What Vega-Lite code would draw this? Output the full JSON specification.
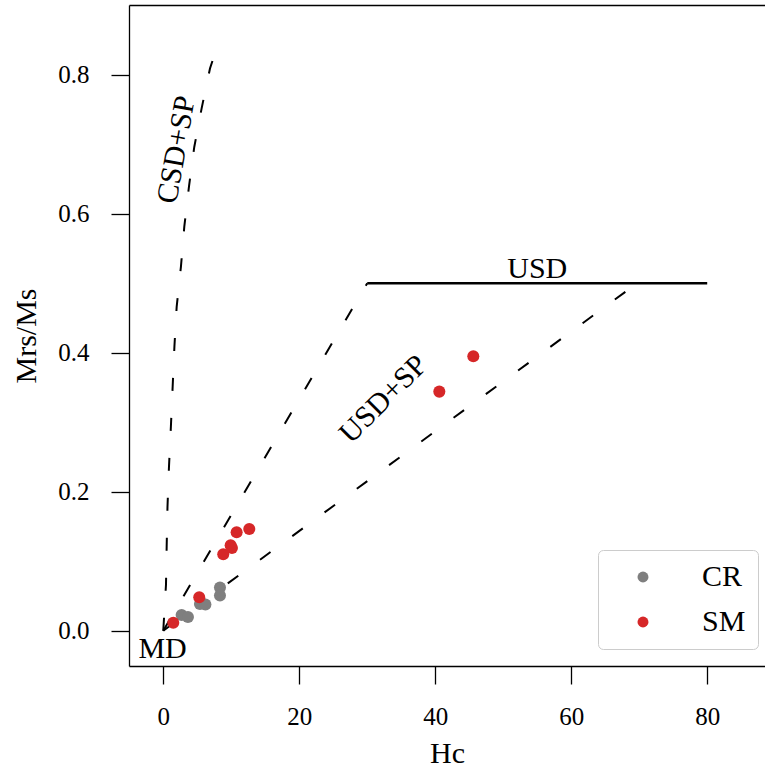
{
  "$schema": "https://vega.github.io/schema/vega-lite/v6.json",
  "width": 636,
  "height": 661,
  "autosize": {"type": "none"},
  "padding": {"left": 129, "top": 5, "right": 0, "bottom": 101},
  "background": "white",
  "config": {
    "view": {"stroke": null},
    "font": "Liberation Serif",
    "axis": {
      "grid": false,
      "domainColor": "black",
      "domainWidth": 1.3,
      "tickColor": "black",
      "tickWidth": 1.3,
      "tickSize": 18,
      "labelFont": "Liberation Serif",
      "labelFontSize": 25,
      "labelColor": "black",
      "titleFont": "Liberation Serif",
      "titleFontSize": 30,
      "titleFontWeight": "normal",
      "titleColor": "black"
    },
    "legend": {
      "orient": "none",
      "legendX": 469,
      "legendY": 545,
      "labelFont": "Liberation Serif",
      "labelFontSize": 30,
      "labelColor": "black",
      "symbolType": "circle",
      "symbolSize": 120,
      "symbolStrokeWidth": 0,
      "padding": 12,
      "rowPadding": 15,
      "symbolOffset": 18,
      "labelOffset": 44,
      "strokeColor": "#cccccc",
      "fillColor": "white",
      "cornerRadius": 5
    }
  },
  "datasets": {
    "pts": [
      {"Hc": 2.7, "Mrs": 0.0226, "sample": "CR"},
      {"Hc": 3.63, "Mrs": 0.0197, "sample": "CR"},
      {"Hc": 5.4, "Mrs": 0.0384, "sample": "CR"},
      {"Hc": 6.2, "Mrs": 0.0377, "sample": "CR"},
      {"Hc": 8.34, "Mrs": 0.0622, "sample": "CR"},
      {"Hc": 8.34, "Mrs": 0.0506, "sample": "CR"},
      {"Hc": 1.47, "Mrs": 0.0115, "sample": "SM"},
      {"Hc": 5.29, "Mrs": 0.048, "sample": "SM"},
      {"Hc": 8.82, "Mrs": 0.110, "sample": "SM"},
      {"Hc": 9.91, "Mrs": 0.123, "sample": "SM"},
      {"Hc": 10.1, "Mrs": 0.119, "sample": "SM"},
      {"Hc": 10.79, "Mrs": 0.1416, "sample": "SM"},
      {"Hc": 12.65, "Mrs": 0.1463, "sample": "SM"},
      {"Hc": 40.6, "Mrs": 0.344, "sample": "SM"},
      {"Hc": 45.6, "Mrs": 0.395, "sample": "SM"}
    ],
    "curves": [
      {"curve": "CSD+SP", "ord": 0, "Hc": 0, "Mrs": 0},
      {"curve": "CSD+SP", "ord": 1, "Hc": 0.4, "Mrs": 0.066},
      {"curve": "CSD+SP", "ord": 2, "Hc": 0.5, "Mrs": 0.121},
      {"curve": "CSD+SP", "ord": 3, "Hc": 0.62, "Mrs": 0.178},
      {"curve": "CSD+SP", "ord": 4, "Hc": 0.84, "Mrs": 0.236},
      {"curve": "CSD+SP", "ord": 5, "Hc": 1.12, "Mrs": 0.2935},
      {"curve": "CSD+SP", "ord": 6, "Hc": 1.38, "Mrs": 0.351},
      {"curve": "CSD+SP", "ord": 7, "Hc": 1.64, "Mrs": 0.409},
      {"curve": "CSD+SP", "ord": 8, "Hc": 1.97, "Mrs": 0.466},
      {"curve": "CSD+SP", "ord": 9, "Hc": 2.6, "Mrs": 0.524},
      {"curve": "CSD+SP", "ord": 10, "Hc": 3.09, "Mrs": 0.581},
      {"curve": "CSD+SP", "ord": 11, "Hc": 3.78, "Mrs": 0.639},
      {"curve": "CSD+SP", "ord": 12, "Hc": 4.56, "Mrs": 0.696},
      {"curve": "CSD+SP", "ord": 13, "Hc": 5.65, "Mrs": 0.752},
      {"curve": "CSD+SP", "ord": 14, "Hc": 6.87, "Mrs": 0.809},
      {"curve": "CSD+SP", "ord": 15, "Hc": 7.24, "Mrs": 0.82},
      {"curve": "USD upper", "ord": 0, "Hc": 0, "Mrs": 0},
      {"curve": "USD upper", "ord": 1, "Hc": 30, "Mrs": 0.5},
      {"curve": "USD lower", "ord": 0, "Hc": 0, "Mrs": 0},
      {"curve": "USD lower", "ord": 1, "Hc": 69, "Mrs": 0.495}
    ],
    "usd": [
      {"Hc": 30, "Mrs": 0.5},
      {"Hc": 80, "Mrs": 0.5}
    ]
  },
  "layer": [
    {
      "data": {"name": "curves"},
      "mark": {"type": "line", "color": "black", "strokeWidth": 2, "strokeDash": [13, 27]},
      "encoding": {
        "x": {
          "field": "Hc", "type": "quantitative",
          "scale": {"domain": [-5.04, 88.5], "nice": false, "zero": false},
          "axis": {"orient": "bottom", "title": "Hc", "values": [0, 20, 40, 60, 80], "format": "d", "labelPadding": 20, "titlePadding": 9}
        },
        "y": {
          "field": "Mrs", "type": "quantitative",
          "scale": {"domain": [-0.0508, 0.9003], "nice": false, "zero": false},
          "axis": {"title": "Mrs/Ms", "values": [0, 0.2, 0.4, 0.6, 0.8], "format": ".1f", "labelPadding": 22, "titlePadding": 16}
        },
        "detail": {"field": "curve"},
        "order": {"field": "ord", "type": "quantitative"}
      }
    },
    {
      "data": {"name": "usd"},
      "mark": {"type": "line", "color": "black", "strokeWidth": 2.5},
      "encoding": {
        "x": {"field": "Hc", "type": "quantitative",
          "axis": {"orient": "top", "labels": false, "ticks": false, "title": null, "domain": true}},
        "y": {"field": "Mrs", "type": "quantitative"}
      }
    },
    {
      "data": {"name": "pts"},
      "mark": {"type": "circle", "size": 145, "opacity": 1},
      "encoding": {
        "x": {"field": "Hc", "type": "quantitative", "axis": null},
        "y": {"field": "Mrs", "type": "quantitative"},
        "color": {
          "field": "sample", "type": "nominal",
          "scale": {"domain": ["CR", "SM"], "range": ["#7f7f7f", "#d62728"]},
          "legend": {"title": null}
        }
      }
    },
    {
      "data": {"values": [{"label": "USD", "Hc": 55.0, "Mrs": 0.507}]},
      "mark": {"type": "text", "fontSize": 30, "align": "center", "baseline": "alphabetic", "color": "black"},
      "encoding": {
        "x": {"field": "Hc", "type": "quantitative", "axis": null},
        "y": {"field": "Mrs", "type": "quantitative"},
        "text": {"field": "label"}
      }
    },
    {
      "data": {"values": [{"label": "MD", "Hc": -3.66, "Mrs": -0.0397}]},
      "mark": {"type": "text", "fontSize": 30, "align": "left", "baseline": "alphabetic", "color": "black"},
      "encoding": {
        "x": {"field": "Hc", "type": "quantitative", "axis": null},
        "y": {"field": "Mrs", "type": "quantitative"},
        "text": {"field": "label"}
      }
    },
    {
      "data": {"values": [{"label": "CSD+SP", "Hc": 1.97, "Mrs": 0.692}]},
      "mark": {"type": "text", "fontSize": 30, "align": "center", "baseline": "middle", "angle": -80, "color": "black"},
      "encoding": {
        "x": {"field": "Hc", "type": "quantitative", "axis": null},
        "y": {"field": "Mrs", "type": "quantitative"},
        "text": {"field": "label"}
      }
    },
    {
      "data": {"values": [{"label": "USD+SP", "Hc": 32.4, "Mrs": 0.333}]},
      "mark": {"type": "text", "fontSize": 30, "align": "center", "baseline": "middle", "angle": -45, "color": "black"},
      "encoding": {
        "x": {"field": "Hc", "type": "quantitative", "axis": null},
        "y": {"field": "Mrs", "type": "quantitative"},
        "text": {"field": "label"}
      }
    }
  ],
  "resolve": {"axis": {"x": "independent"}}
}
